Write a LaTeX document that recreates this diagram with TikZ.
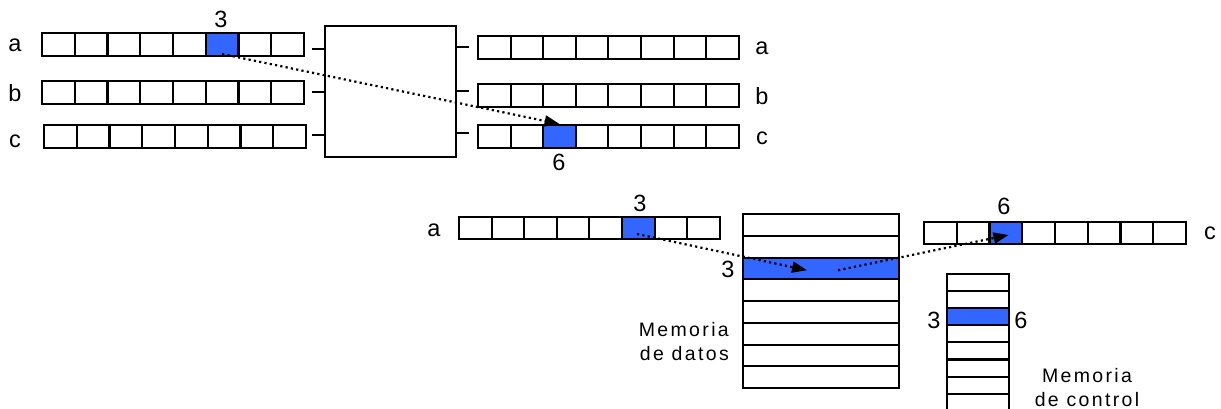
\documentclass[tikz,border=0pt]{standalone}
\usepackage{fontspec}
\setmainfont{Liberation Sans}
\newfontfamily\spacedfont[LetterSpace=12]{Liberation Sans}
\usetikzlibrary{arrows.meta}
\definecolor{cellblue}{RGB}{51,102,255}
\tikzset{
  cell/.style={draw=black, line width=2pt, minimum width=#1, minimum height=23pt, inner sep=0pt, anchor=north west, fill=white},
  cell/.default=32.7pt,
  hot/.style={fill=cellblue},
  lbl/.style={font=\fontsize{23.5}{25}\selectfont, inner sep=0pt},
  memtxt/.style={font=\spacedfont\fontsize{19.5}{24}\selectfont, inner sep=0pt, align=#1},
  flow/.style={line width=2.2pt, dash pattern=on 2.2pt off 3.2pt, -{Triangle[length=15pt,width=11pt]}},
  stub/.style={line width=2pt}
}
\begin{document}
\begin{tikzpicture}[x=1pt,y=-1pt]
\useasboundingbox (0,0) rectangle (1221,409);
% top-left registers
\foreach \i in {0,...,7} {
  \node[cell] (ta\i) at (41+\i*32.75,32) {};
  \node[cell] (tb\i) at (41+\i*32.75,80) {};
  \node[cell] (tc\i) at (43+\i*32.75,124) {};
}
\node[cell,hot] (ta5) at (41+5*32.75,32) {};
\node[lbl] (la) at (15,45) {a};
\node[lbl] (lb) at (15,93) {b};
\node[lbl] (lc) at (15,141) {c};
\node[lbl] (n3a) at (221,19) {3};
% central box
\node[draw, line width=2pt, minimum width=131pt, minimum height=131pt, anchor=north west, inner sep=0pt] (box) at (324,25) {};
\foreach \y in {24,67,110} \draw[stub] ([yshift=-\y pt]box.north west) -- ++(-12,0);
\foreach \y in {22,66,108} \draw[stub] ([yshift=-\y pt]box.north east) -- ++(12,0);
% right registers
\foreach \i in {0,...,7} {
  \node[cell] (ra\i) at (477+\i*32.6,35) {};
  \node[cell] (rb\i) at (477+\i*32.6,83) {};
  \node[cell] (rc\i) at (477+\i*32.6,124) {};
}
\node[cell,hot] (rc2) at (477+2*32.6,124) {};
\node[lbl] (ra) at (762,48) {a};
\node[lbl] (rb) at (762,96) {b};
\node[lbl] (rc) at (762,138) {c};
\node[lbl] (n6a) at (559,162) {6};
\draw[flow] ([yshift=3pt]ta5.south) -- (rc2.north);
% bottom register a
\foreach \i in {0,...,7} \node[cell, minimum height=22pt] (ba\i) at (458+\i*32.6,216) {};
\node[cell,hot, minimum height=22pt] (ba5) at (458+5*32.6,216) {};
\node[lbl] (bla) at (434,230) {a};
\node[lbl] (n3b) at (640,203) {3};
% data memory
\foreach \i in {0,...,7} \node[cell, minimum width=156pt, minimum height=21.75pt] (dm\i) at (742,213+\i*21.75) {};
\node[cell,hot, minimum width=156pt, minimum height=21.75pt] (dm2) at (742,213+2*21.75) {};
\node[lbl] (n3c) at (728,269) {3};
\node[memtxt=right, anchor=north east] (mdat) at (729,322) {Memoria\\de datos};
% bottom register c
\foreach \i in {0,...,7} \node[cell, minimum height=22pt] (bc\i) at (923+\i*32.75,221) {};
\node[cell,hot, minimum height=22pt] (bc2) at (923+2*32.75,221) {};
\node[lbl] (bcl) at (1210,233) {c};
\node[lbl] (n6b) at (1004,206) {6};
% control memory
\foreach \i in {0,...,7} \node[cell, minimum width=62pt, minimum height=17pt] (cm\i) at (946,273+\i*17.1) {};
\node[cell,hot, minimum width=62pt, minimum height=17pt] (cm2) at (946,273+2*17.1) {};
\node[lbl] (n3d) at (934,320) {3};
\node[lbl] (n6c) at (1021,320) {6};
\node[memtxt=center, anchor=north] (mctl) at (1087,368) {Memoria\\de control};
% flows
\coordinate (s2) at ([xshift=16pt,yshift=6pt]ba5.south west);
\coordinate (e2) at ([xshift=65pt,yshift=10pt]dm2.south west);
\coordinate (s3) at ([xshift=96pt,yshift=10pt]dm2.south west);
\coordinate (e3) at ([xshift=20pt,yshift=10pt]bc2.south west);
\draw[flow] (s2) -- (e2);
\draw[flow] (s3) -- (e3);
\end{tikzpicture}
\end{document}
